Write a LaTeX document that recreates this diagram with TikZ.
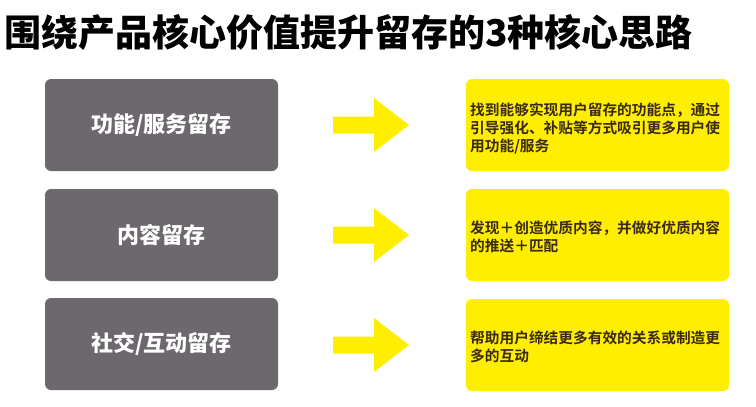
\documentclass[tikz,border=0pt]{standalone}
\usepackage{fontspec}
\usetikzlibrary{calc}
\newfontfamily\cjk{Noto Sans CJK SC}[BoldFont={Noto Sans CJK SC Bold}]
\newfontfamily\cjkblack{Noto Sans CJK SC Black}
\definecolor{boxgray}{HTML}{6D686E}
\definecolor{boxyellow}{HTML}{FFEE00}
\definecolor{txtbrown}{HTML}{3A2A12}
\begin{document}
\begin{tikzpicture}[x=1pt,y=-1pt,
  graybox/.style={fill=boxgray,rounded corners=6pt,minimum width=233pt,minimum height=92pt,inner sep=0pt,
    text=white,font=\cjkblack\fontsize{22}{26}\selectfont},
  yellowbox/.style={fill=boxyellow,rounded corners=6pt,minimum width=263pt,minimum height=92pt,inner sep=0pt},
  desc/.style={anchor=west,align=left,inner sep=0pt,text=txtbrown,
    font=\cjk\bfseries\fontsize{14.7}{18}\selectfont},
  blockarrow/.style={fill=boxyellow}]
\useasboundingbox (0,0) rectangle (756,407);
\fill[white] (0,0) rectangle (756,407);
\node[anchor=west,inner sep=0pt,font=\cjkblack\fontsize{37}{40}\selectfont] (title) at (4,32) {围绕产品核心价值提升留存的3种核心思路};
% rows
\node[graybox] (g1) at (161.5,125) {功能/服务留存};
\node[graybox] (g2) at (161.5,235) {内容留存};
\node[graybox] (g3) at (161.5,344) {社交/互动留存};
\node[yellowbox] (y1) at (597.5,125) {};
\node[yellowbox] (y2) at (597.5,235) {};
\node[yellowbox] (y3) at (597.5,345) {};
\node[desc] (d1) at (470,128) {找到能够实现用户留存的功能点，通过\\引导强化、补贴等方式吸引更多用户使\\用功能/服务};
\node[desc] (d2) at (470,237) {发现＋创造优质内容，并做好优质内容\\的推送＋匹配};
\node[desc] (d3) at (470,347) {帮助用户缔结更多有效的关系或制造更\\多的互动};
% arrows
\foreach \r/\yc in {1/125,2/235,3/345}{
  \coordinate (a\r) at (333,\yc);
  \fill[blockarrow] ($(a\r)+(0,-8.5)$) -- ++(41,0) -- ++(0,-18.5) -- ++(35,27) -- ++(-35,27) -- ++(0,-18.5) -- ++(-41,0) -- cycle;
}
\end{tikzpicture}
\end{document}
